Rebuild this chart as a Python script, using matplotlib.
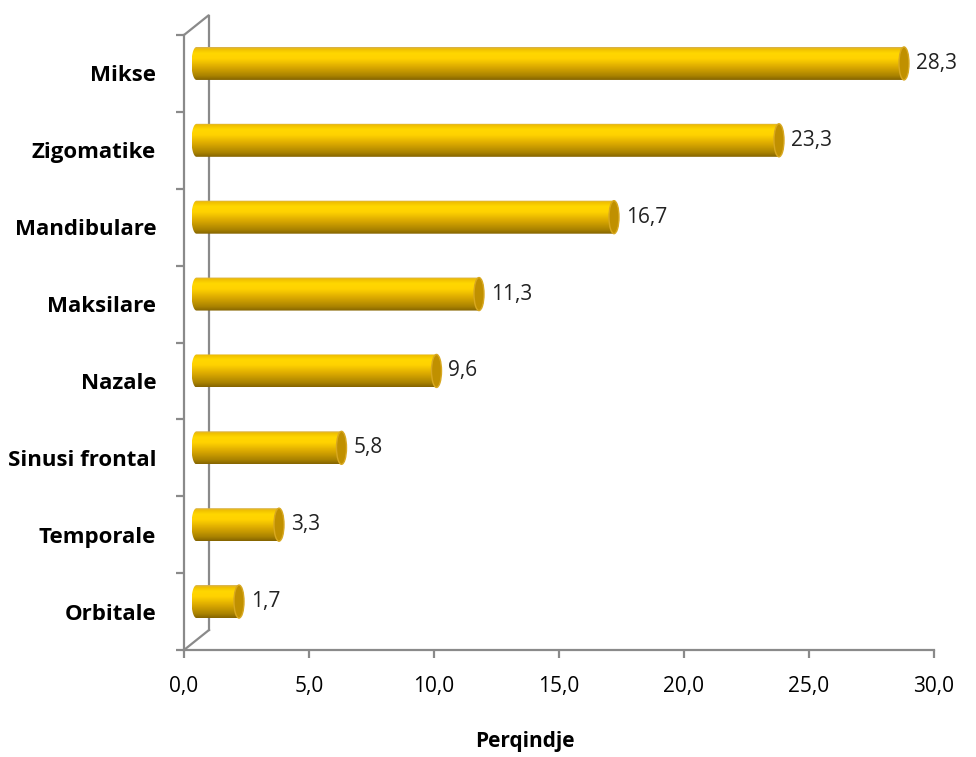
import numpy as np
import matplotlib.pyplot as plt
from matplotlib.path import Path
from matplotlib.patches import PathPatch, Ellipse
from matplotlib.colors import LinearSegmentedColormap

# kategorite (nga poshte lart) dhe perqindjet
kategorite = ['Orbitale', 'Temporale', 'Sinusi frontal', 'Nazale',
              'Maksilare', 'Mandibulare', 'Zigomatike', 'Mikse']
perqindje = [1.7, 3.3, 5.8, 9.6, 11.3, 16.7, 23.3, 28.3]
xticks = [0, 5, 10, 15, 20, 25, 30]
xticklabels = ['0,0', '5,0', '10,0', '15,0', '20,0', '25,0', '30,0']

plt.rcParams['font.family'] = ['Open Sans', 'DejaVu Sans']
gri = '#8a8a8a'
fs = 15

fig = plt.figure(figsize=(9.76, 7.57), dpi=100)
W, H = 976, 757
# plani i perparme i grafikut 3D
x_left, x_right, y_top, y_bot = 184, 934, 35, 650
ax = fig.add_axes([x_left / W, 1 - y_bot / H, (x_right - x_left) / W, (y_bot - y_top) / H])
ax.set_xlim(0, 30)
ax.set_ylim(0, len(kategorite))

px_x = 30.0 / (x_right - x_left)
px_y = len(kategorite) / float(y_bot - y_top)
dx = 25 * px_x   # thellesia 3D
dy = 20 * px_y

# muri i pasme
ax.plot([0, dx, dx], [len(kategorite), len(kategorite) + dy, dy], color=gri, lw=1.6,
        clip_on=False, zorder=1, solid_joinstyle='miter')
ax.plot([0, dx], [0, dy], color=gri, lw=1.6, clip_on=False, zorder=1)

# cilindrat
cmap = LinearSegmentedColormap.from_list('ari', [
    (0.0, '#856400'), (0.12, '#a98200'), (0.4, '#dcaa00'),
    (0.65, '#ffd200'), (0.82, '#ffd700'), (0.94, '#f0c000'), (1.0, '#d6b050')])
grad = np.linspace(0, 1, 64).reshape(-1, 1)
h = 33 * px_y
a = 5 * px_x
t = np.radians(np.linspace(270, 90, 30))
for i, v in enumerate(perqindje):
    yc = i + 0.5 + dy / 2
    x0 = dx / 2
    x1 = v + dx / 2
    verts = [(x0, yc + h / 2), (x1, yc + h / 2), (x1, yc - h / 2), (x0, yc - h / 2)]
    verts += list(zip(x0 + a * np.cos(t), yc + h / 2 * np.sin(t)))
    verts.append(verts[0])
    codes = [Path.MOVETO] + [Path.LINETO] * (len(verts) - 2) + [Path.CLOSEPOLY]
    body = PathPatch(Path(verts, codes), facecolor='none', edgecolor='none')
    ax.add_patch(body)
    im = ax.imshow(grad, cmap=cmap, origin='lower', aspect='auto',
                   extent=[x0 - a, x1, yc - h / 2, yc + h / 2], zorder=3)
    im.set_clip_path(body)
    ax.add_patch(Ellipse((x1, yc), 2 * a, h, facecolor='#c09000', edgecolor='#d8a820',
                         lw=1.0, zorder=4))
    ax.annotate(str(v).replace('.', ','), (x1 + a, yc), xytext=(5, 0),
                textcoords='offset points', va='center', ha='left', fontsize=fs,
                color='#222222', annotation_clip=False)

ax.set_xlim(0, 30)
ax.set_ylim(0, len(kategorite))

for s in ['top', 'right']:
    ax.spines[s].set_visible(False)
for s in ['left', 'bottom']:
    ax.spines[s].set_color(gri)
    ax.spines[s].set_linewidth(1.6)
    ax.spines[s].set_zorder(2)

ax.set_xticks(xticks)
ax.set_xticklabels(xticklabels)
ax.set_yticks(range(len(kategorite) + 1))
ax.set_yticklabels([])
ax.set_yticks(np.arange(len(kategorite)) + 0.5, minor=True)
ax.set_yticklabels(kategorite, minor=True, fontweight='bold', fontsize=16)
ax.tick_params(axis='y', which='major', length=6, width=1.6, color=gri, direction='out')
ax.tick_params(axis='y', which='minor', length=0, pad=20)
ax.tick_params(axis='x', length=6, width=1.6, color=gri, pad=13, labelsize=fs)
fig.text(525 / W, 1 - 742 / H, 'Perqindje', fontweight='bold', fontsize=fs,
         ha='center', va='center')

fig.savefig('out.png', dpi=100)
